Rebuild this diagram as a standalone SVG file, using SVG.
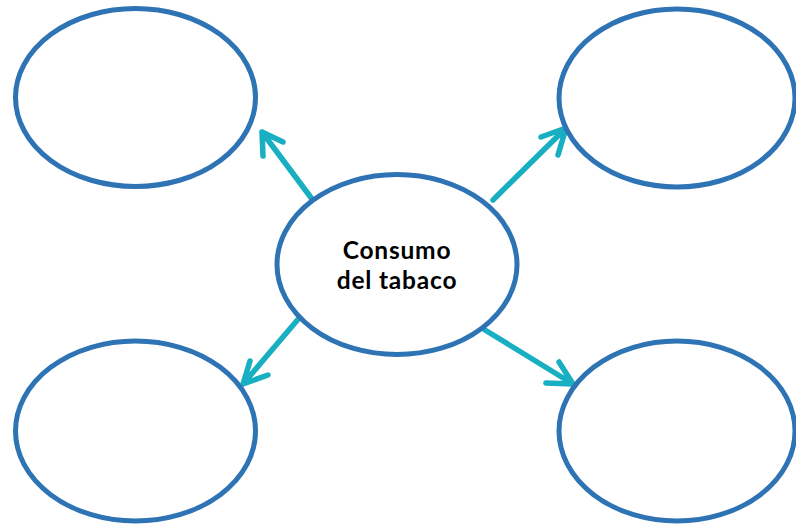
<svg xmlns="http://www.w3.org/2000/svg" width="796" height="527" viewBox="0 0 796 527">
<style>
.node{fill:#fff;stroke:#2e74b5;stroke-width:5}
.conn{fill:none;stroke:#17afc1;stroke-width:5.5;stroke-linecap:round;stroke-linejoin:round}
.label{font-family:Lato,"Open Sans",sans-serif;font-weight:bold;font-size:24.5px;letter-spacing:0.8px;fill:#000;text-anchor:middle}
</style>
<rect width="796" height="527" fill="#fff"/>
<g id="connectors">
<path class="conn" d="M312,199 L262,132 M283,142 L262,132 L263,156"/>
<path class="conn" d="M493,200 L566,128 M541,137 L566,128 L558,155"/>
<path class="conn" d="M300,317 L243,384 M250,361 L243,384 L268,375"/>
<path class="conn" d="M485,330 L573,384 M559,362 L573,384 L546,383"/>
</g>
<g id="node-tl"><ellipse class="node" cx="135.5" cy="97.5" rx="120" ry="89"/></g>
<g id="node-tr"><ellipse class="node" cx="677" cy="98" rx="118" ry="89"/></g>
<g id="node-center"><ellipse class="node" cx="397" cy="264.5" rx="120" ry="90"/>
<text class="label" x="397" y="259">Consumo</text>
<text class="label" x="397" y="289">del tabaco</text></g>
<g id="node-bl"><ellipse class="node" cx="135.5" cy="431" rx="120" ry="90"/></g>
<g id="node-br"><ellipse class="node" cx="677" cy="431" rx="118" ry="90"/></g>
</svg>
